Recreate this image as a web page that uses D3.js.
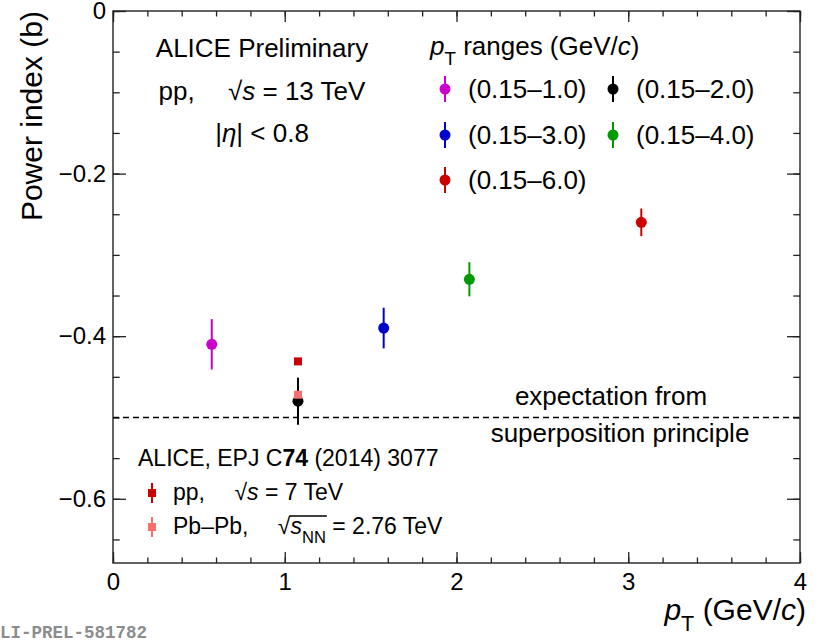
<!DOCTYPE html>
<html>
<head>
<meta charset="utf-8">
<script src="https://cdn.jsdelivr.net/npm/d3@7"></script>
<style>
  html, body { margin: 0; padding: 0; background: #fff; }
  svg { display: block; font-family: "Liberation Sans", Arial, Helvetica, sans-serif; }
</style>
</head>
<body>
<svg id="chart" width="818" height="643"></svg>
<script>
// pT ranges of the 13 TeV measurement
const rangeLabels = ["(0.15–1.0)", "(0.15–2.0)", "(0.15–3.0)", "(0.15–4.0)", "(0.15–6.0)"];
const rangeColors = ["#cc00cc", "#000000", "#0000cc", "#009900", "#cc0000"];
const meanPt = [0.575, 1.077, 1.576, 2.075, 3.076];
const powerIndex = [-0.410, -0.480, -0.390, -0.330, -0.260];
const powerErr = [0.031, 0.029, 0.025, 0.021, 0.017];

// older ALICE results (EPJ C74 (2014) 3077)
const refLabels = ["pp7", "PbPb"];
const refColors = ["#cc0000", "#fa6e6e"];
const refPt = [1.077, 1.077];
const refIndex = [-0.431, -0.472];
const refErr = [0.003, 0.003];

const expectation = -0.5;

const xMajor = [0, 1, 2, 3, 4];
const yMajor = [0, -0.2, -0.4, -0.6];

const svg = d3.select("#chart");
const frame = { left: 113, right: 800, top: 11, bottom: 563 };

const x = d3.scaleLinear().domain([0, 4]).range([frame.left, frame.right]);
const y = d3.scaleLinear().domain([-0.679, 0]).range([frame.bottom, frame.top]);

const xMinor = d3.range(0, 4.001, 0.2).map(v => +v.toFixed(2));
const yMinor = d3.range(-0.65, 0.001, 0.05).map(v => +v.toFixed(2));

const fmtY = d => d === 0 ? "0" : d3.format(".1f")(d);

// axes, ticks pointing inward on all four sides
function axisGroup(axis, tx, ty) {
    const g = svg.append("g")
        .attr("transform", `translate(${tx},${ty})`)
        .call(axis);
    g.select(".domain").remove();
    g.selectAll("line").attr("stroke", "#222").attr("stroke-width", 1.3);
    return g;
}

axisGroup(d3.axisBottom(x).tickValues(xMinor).tickSize(-5.5).tickFormat(""), 0, frame.bottom);
axisGroup(d3.axisTop(x).tickValues(xMinor).tickSize(-5.5).tickFormat(""), 0, frame.top);
axisGroup(d3.axisTop(x).tickValues(xMajor).tickSize(-11).tickFormat(""), 0, frame.top);
const xAx = axisGroup(d3.axisBottom(x).tickValues(xMajor).tickSize(-11).tickPadding(10).tickFormat(d3.format("d")), 0, frame.bottom);
xAx.selectAll("text").attr("font-size", 24).attr("fill", "#000").attr("font-family", "Liberation Sans, Arial, sans-serif");

axisGroup(d3.axisLeft(y).tickValues(yMinor).tickSize(-6.7).tickFormat(""), frame.left, 0);
axisGroup(d3.axisRight(y).tickValues(yMinor).tickSize(-6.7).tickFormat(""), frame.right, 0);
axisGroup(d3.axisRight(y).tickValues(yMajor).tickSize(-13).tickFormat(""), frame.right, 0);
const yAx = axisGroup(d3.axisLeft(y).tickValues(yMajor).tickSize(-13).tickPadding(7).tickFormat(fmtY), frame.left, 0);
yAx.selectAll("text").attr("font-size", 24).attr("fill", "#000").attr("font-family", "Liberation Sans, Arial, sans-serif");

svg.append("rect")
    .attr("x", frame.left).attr("y", frame.top)
    .attr("width", frame.right - frame.left).attr("height", frame.bottom - frame.top)
    .attr("fill", "none").attr("stroke", "#222").attr("stroke-width", 1.4);

// text with rich segments
function richText(parent, px, py, size, segs, anchor) {
    const t = parent.append("text")
        .attr("x", px).attr("y", py)
        .attr("font-size", size)
        .attr("text-anchor", anchor || "start");
    segs.forEach(s => {
        const ts = t.append("tspan").text(s.t);
        if (s.i) ts.attr("font-style", "italic");
        if (s.b) ts.attr("font-weight", "bold");
        if (s.sub) ts.attr("font-size", size * 0.72).attr("dy", size * 0.38);
        if (s.up) ts.attr("dy", -size * 0.38);
    });
    return t;
}

// axis titles
richText(svg, 806, 620, 30, [
    { t: "p", i: true }, { t: "T", sub: true }, { t: " (GeV/", up: true }, { t: "c", i: true }, { t: ")" }
], "end");

svg.append("text")
    .attr("transform", `translate(42,${frame.top}) rotate(-90)`)
    .attr("text-anchor", "end")
    .attr("font-size", 30)
    .text("Power index (b)");

// expectation line
svg.append("line")
    .attr("x1", x(0)).attr("x2", x(4))
    .attr("y1", y(expectation)).attr("y2", y(expectation))
    .attr("stroke", "#000").attr("stroke-width", 1.3)
    .attr("stroke-dasharray", "6,4");

svg.append("text").attr("x", 611).attr("y", 405).attr("font-size", 26)
    .attr("text-anchor", "middle").text("expectation from");
svg.append("text").attr("x", 620).attr("y", 442).attr("font-size", 26)
    .attr("text-anchor", "middle").text("superposition principle");

// header
svg.append("text").attr("x", 262).attr("y", 57).attr("font-size", 26)
    .attr("text-anchor", "middle").text("ALICE Preliminary");
richText(svg, 262, 100, 26, [
    { t: "pp,\u2003\u00a0" }, { t: "√" }, { t: "s", i: true }, { t: " = 13 TeV" }
], "middle");
richText(svg, 262, 142, 26, [
    { t: "|" }, { t: "η", i: true }, { t: "| < 0.8" }
], "middle");

// data points
const pts = svg.append("g");
meanPt.forEach((v, i) => {
    pts.append("line")
        .attr("x1", x(v)).attr("x2", x(v))
        .attr("y1", y(powerIndex[i] - powerErr[i])).attr("y2", y(powerIndex[i] + powerErr[i]))
        .attr("stroke", rangeColors[i]).attr("stroke-width", 2);
    pts.append("circle")
        .attr("cx", x(v)).attr("cy", y(powerIndex[i])).attr("r", 5.5)
        .attr("fill", rangeColors[i]);
});
refPt.forEach((v, i) => {
    pts.append("line")
        .attr("x1", x(v)).attr("x2", x(v))
        .attr("y1", y(refIndex[i] - refErr[i])).attr("y2", y(refIndex[i] + refErr[i]))
        .attr("stroke", refColors[i]).attr("stroke-width", 2);
    pts.append("rect")
        .attr("x", x(v) - 4).attr("y", y(refIndex[i]) - 4)
        .attr("width", 8).attr("height", 8)
        .attr("fill", refColors[i]);
});

// legend for pT ranges
richText(svg, 430, 55, 26, [
    { t: "p", i: true }, { t: "T", sub: true }, { t: " ranges (GeV/", up: true }, { t: "c", i: true }, { t: ")" }
]);
const legPos = [[445, 89], [613, 89], [445, 135], [613, 135], [445, 180]];
rangeLabels.forEach((lab, i) => {
    const [lx, ly] = legPos[i];
    svg.append("line").attr("x1", lx).attr("x2", lx).attr("y1", ly - 13).attr("y2", ly + 13)
        .attr("stroke", rangeColors[i]).attr("stroke-width", 2);
    svg.append("circle").attr("cx", lx).attr("cy", ly).attr("r", 5.5).attr("fill", rangeColors[i]);
    svg.append("text").attr("x", lx + 23).attr("y", ly + 9).attr("font-size", 26).text(lab);
});

// legend for reference results
richText(svg, 138, 466, 23, [
    { t: "ALICE, EPJ C" }, { t: "74", b: true }, { t: " (2014) 3077" }
]);
const refLegY = [493, 527];
refLegY.forEach((ly, i) => {
    svg.append("line").attr("x1", 152).attr("x2", 152).attr("y1", ly - 10).attr("y2", ly + 10)
        .attr("stroke", refColors[i]).attr("stroke-width", 2);
    svg.append("rect").attr("x", 148).attr("y", ly - 4).attr("width", 8).attr("height", 8)
        .attr("fill", refColors[i]);
});
richText(svg, 173, 500, 23, [
    { t: "pp,\u2003\u00a0" }, { t: "√" }, { t: "s", i: true }, { t: " = 7 TeV" }
]);
const pb = richText(svg, 173, 534, 23, [
    { t: "Pb–Pb,\u2003\u00a0" }, { t: "√" }, { t: "s", i: true }, { t: "NN", sub: true }, { t: " = 2.76 TeV", up: true }
]);
// radical bar over s_NN
const pbNode = pb.node();
const full = pbNode.textContent;
const iRad = full.indexOf("√");
const iEnd = full.indexOf("NN") + 1;
const rRad = pbNode.getExtentOfChar(iRad);
const rEnd = pbNode.getExtentOfChar(iEnd);
svg.append("line")
    .attr("x1", rRad.x + rRad.width - 1).attr("x2", rEnd.x + rEnd.width + 1)
    .attr("y1", rRad.y + 3).attr("y2", rRad.y + 3)
    .attr("stroke", "#000").attr("stroke-width", 1.3);

// watermark
svg.append("text")
    .attr("x", -10.5).attr("y", 638)
    .attr("font-family", "Liberation Mono, Courier New, monospace")
    .attr("font-weight", "bold")
    .attr("font-size", 17.5)
    .attr("fill", "#8c8c8c")
    .text("ALI-PREL-581782");
</script>
</body>
</html>
